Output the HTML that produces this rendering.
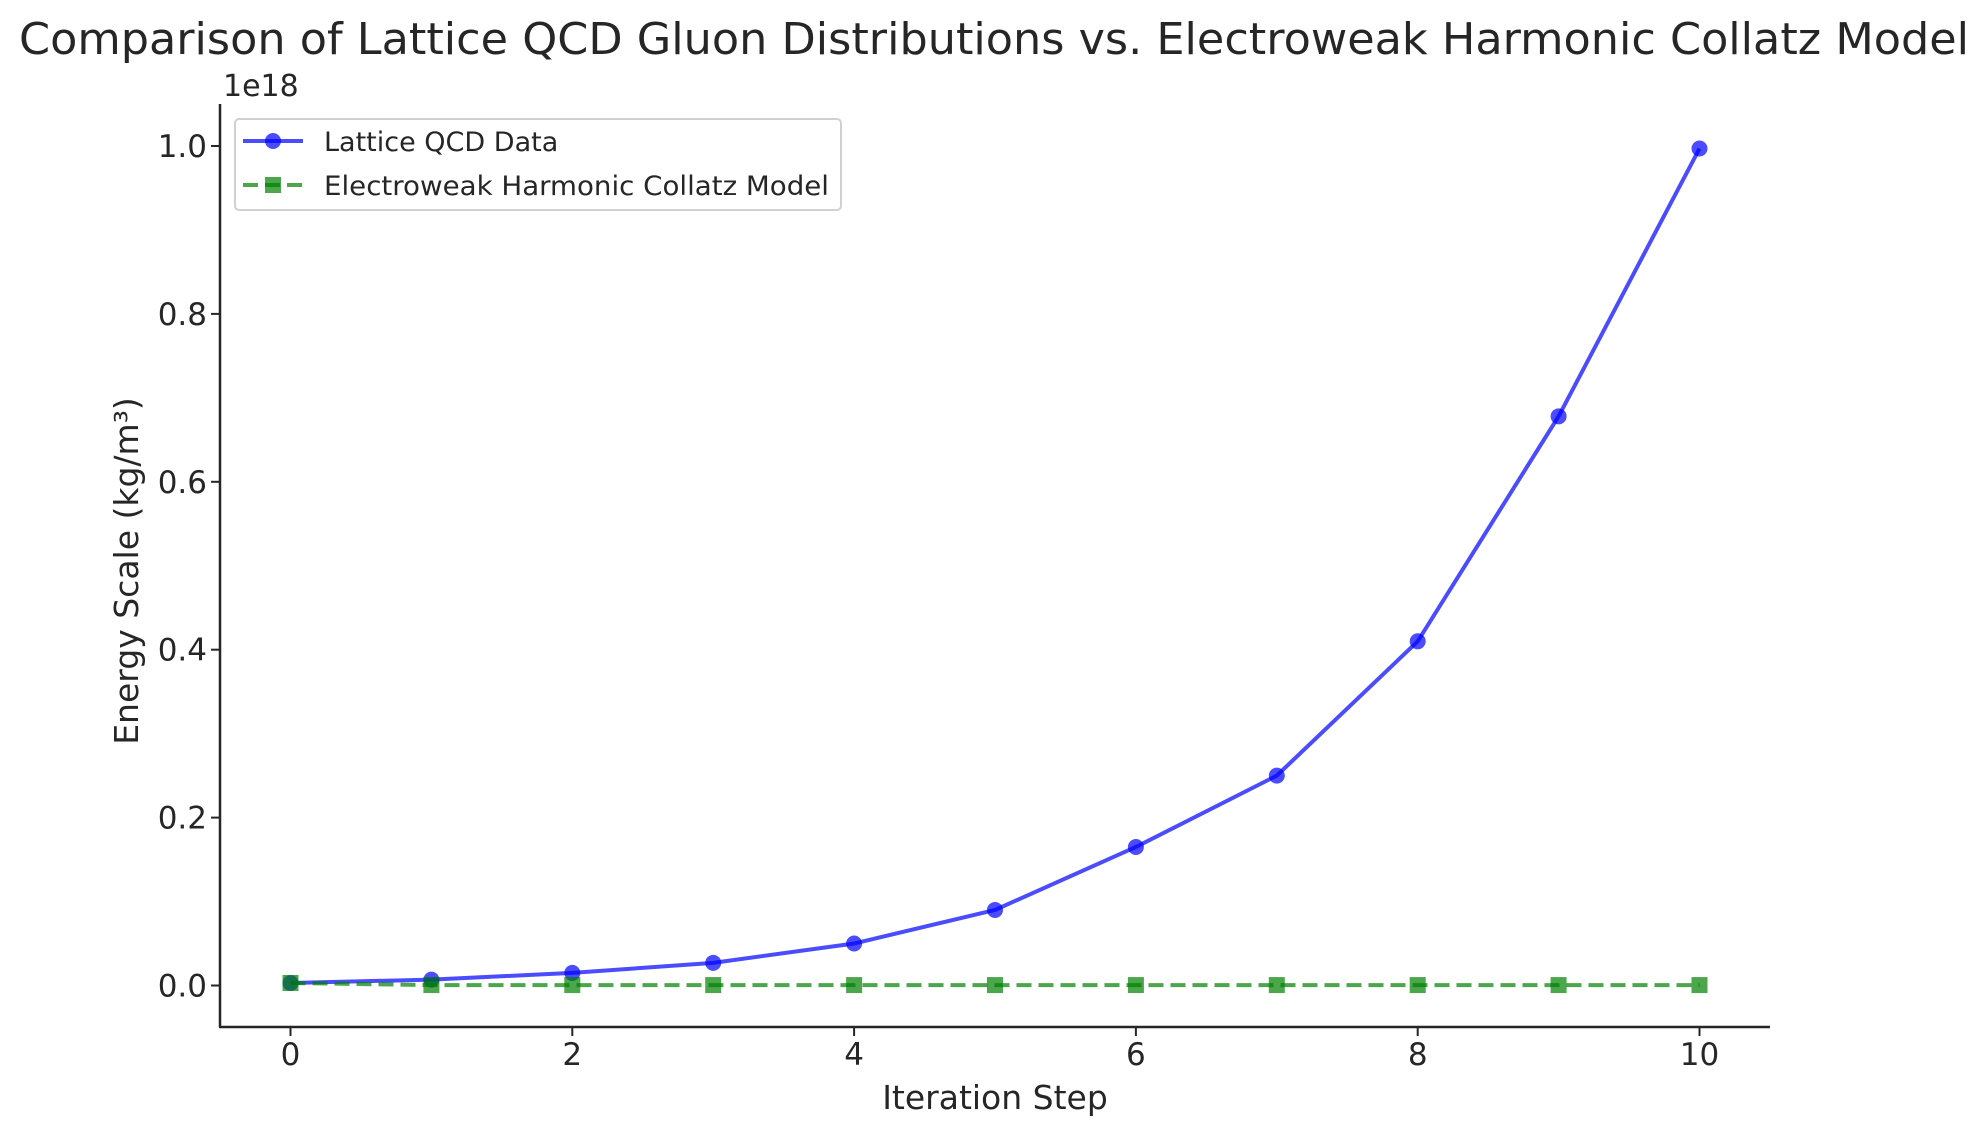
<!DOCTYPE html>
<html><head><meta charset="utf-8"><style>
body{margin:0;background:#fff;}
svg{display:block;font-family:"DejaVu Sans","Liberation Sans",sans-serif;}
</style></head><body>
<svg id="chart" width="1988" height="1135" viewBox="0 0 1988 1135">
<rect width="1988" height="1135" fill="#fff"/>
<text x="994" y="54" text-anchor="middle" font-size="44" textLength="1950" lengthAdjust="spacingAndGlyphs" fill="#262626">Comparison of Lattice QCD Gluon Distributions vs. Electroweak Harmonic Collatz Model</text>
<text x="223" y="96" font-size="30" fill="#262626">1e18</text>
<g id="ticks"></g>
<g id="series"></g>
<line x1="220" y1="104" x2="220" y2="1027" stroke="#262626" stroke-width="2.5"/>
<line x1="219" y1="1027" x2="1770" y2="1027" stroke="#262626" stroke-width="2.5"/>
<text x="995" y="1109" text-anchor="middle" font-size="33" fill="#262626">Iteration Step</text>
<text transform="translate(138,571) rotate(-90)" text-anchor="middle" font-size="33" fill="#262626">Energy Scale (kg/m³)</text>
<g>
<rect x="235" y="119" width="606" height="91" rx="4" fill="#fff" stroke="#d0d0d0" stroke-width="2"/>
<g>
<line x1="243" y1="141" x2="303" y2="141" stroke="#0000ff" stroke-opacity="0.7" stroke-width="4"/>
<circle cx="273" cy="141" r="8" fill="#0000ff" fill-opacity="0.7"/>
<text x="324" y="151" font-size="27" fill="#262626">Lattice QCD Data</text>
</g>
<g>
<line x1="243" y1="185" x2="303" y2="185" stroke="#008000" stroke-opacity="0.7" stroke-width="4" stroke-dasharray="15,7"/>
<rect x="265" y="177" width="16" height="16" fill="#008000" fill-opacity="0.7"/>
<text x="324" y="195" font-size="27" fill="#262626" textLength="505" lengthAdjust="spacingAndGlyphs">Electroweak Harmonic Collatz Model</text>
</g>
</g>
</svg>
<script>
const steps=[0,1,2,3,4,5,6,7,8,9,10];
const latticeVals=[0.003,0.007,0.015,0.027,0.050,0.090,0.165,0.250,0.410,0.678,0.997];
const collatzVals=[0.003,0.0005,0.0005,0.0005,0.0005,0.0005,0.0005,0.0005,0.0005,0.0005,0.0005];
const xTicks=[0,2,4,6,8,10];
const yTicks=[0,0.2,0.4,0.6,0.8,1.0];
const yTickLabels=["0.0","0.2","0.4","0.6","0.8","1.0"];
const NS="http://www.w3.org/2000/svg";
function xs(v){return 290.5+v*140.9;}
function ys(v){return 985.5-v*839.5;}
function mk(t,a,p){const e=document.createElementNS(NS,t);for(const k in a)e.setAttribute(k,a[k]);p.appendChild(e);return e;}
const tg=document.getElementById('ticks');
xTicks.forEach(v=>{
 const l=mk('line',{x1:xs(v),x2:xs(v),y1:1027,y2:1036,stroke:'#262626','stroke-width':2},tg);
 
 
 const t=mk('text',{x:xs(v),y:1065,'text-anchor':'middle','font-size':31,fill:'#262626'},tg);
 t.textContent=v;
 
 
});
yTicks.forEach((v,i)=>{
 const l=mk('line',{x1:211,x2:220,y1:ys(v),y2:ys(v),stroke:'#262626','stroke-width':2},tg);
 
 
 const t=mk('text',{x:207,y:ys(v)+11,'text-anchor':'end','font-size':31,fill:'#262626'},tg);
 t.textContent=yTickLabels[i];
 
 
});
const sg=document.getElementById('series');
const bl=mk('polyline',{points:steps.map((s,i)=>xs(s)+','+ys(latticeVals[i])).join(' '),fill:'none',stroke:'#0000ff','stroke-opacity':0.7,'stroke-width':4},sg);


steps.forEach((s,i)=>{
 const c=mk('circle',{cx:xs(s),cy:ys(latticeVals[i]),r:8,fill:'#0000ff','fill-opacity':0.7},sg);
 
 
});
const gl=mk('polyline',{points:steps.map((s,i)=>xs(s)+','+ys(collatzVals[i])).join(' '),fill:'none',stroke:'#008000','stroke-opacity':0.7,'stroke-width':4,'stroke-dasharray':'15,7'},sg);


steps.forEach((s,i)=>{
 const r=mk('rect',{x:xs(s)-8,y:ys(collatzVals[i])-8,width:16,height:16,fill:'#008000','fill-opacity':0.7},sg);
 
 
});
</script>
</body></html>
